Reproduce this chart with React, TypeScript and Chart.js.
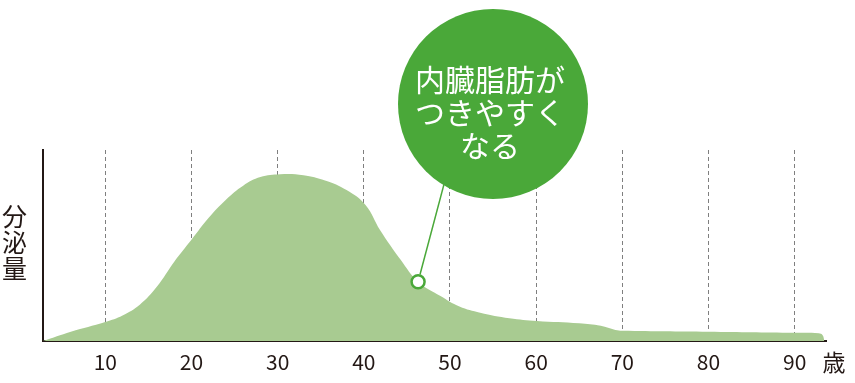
import React, { useEffect, useRef } from "react";
import { Chart, registerables } from "chart.js";

Chart.register(...registerables);

// ---- data ----
const ages = [2.77, 6, 10, 12, 14, 16, 18, 20, 22, 24, 26, 28, 30.3, 33, 35.5, 38, 40.2, 41.9, 44.3, 46.3, 48.9, 51.1, 53.5, 56.9, 60.1, 65, 67.5, 69.2, 70, 80, 90, 92.8, 93.25, 93.45];
const secretion = [0, 4.9, 10, 13.4, 19, 28.5, 41.5, 53, 64.5, 74, 81.3, 85.8, 87.3, 86.8, 84, 79, 71.2, 58, 42.4, 31, 23.5, 18, 14.8, 11.9, 10.5, 9.3, 8, 5.8, 5.4, 4.9, 4.3, 4, 3, 0];
const tickAges = [10, 20, 30, 40, 50, 60, 70, 80, 90];
const markerAge = [46.3];
const markerValue = [31];
const calloutLines = ["内臓脂肪が", "つきやすく", "なる"];
const yAxisLabel = ["分", "泌", "量"];
const xUnit = "歳";

const FILL = "#a8cb91";
const GREEN = "#4aa839";
const INK = "#231815";
const GRID = "#7f7f7f";
const FONT = "'Noto Sans CJK JP', 'Noto Sans', sans-serif";

export default function App() {
  const ref = useRef<HTMLCanvasElement>(null);

  useEffect(() => {
    document.body.style.margin = "0";
    const canvas = ref.current;
    if (!canvas) return;

    const overlay = {
      id: "overlay",
      afterDraw(chart: any) {
        const ctx = chart.ctx as CanvasRenderingContext2D;
        const xs = chart.scales.x;
        const ys = chart.scales.y;
        const mx = xs.getPixelForValue(markerAge[0]);
        const my = ys.getPixelForValue(markerValue[0]);
        // callout circle geometry (annotation)
        const cx = 493;
        const cy = 104;
        const r = 95;
        const ax = cx - 50;
        const ay = cy + 84;
        ctx.save();
        // connector
        const dx = ax - mx;
        const dy = ay - my;
        const len = Math.hypot(dx, dy);
        const sx = mx + (dx / len) * 7.5;
        const sy = my + (dy / len) * 7.5;
        ctx.strokeStyle = GREEN;
        ctx.lineWidth = 1.5;
        ctx.beginPath();
        ctx.moveTo(sx, sy);
        ctx.lineTo(ax + (dx / len) * 10, ay + (dy / len) * 10);
        ctx.stroke();
        // circle
        ctx.fillStyle = GREEN;
        ctx.beginPath();
        ctx.arc(cx, cy, r, 0, Math.PI * 2);
        ctx.fill();
        // callout text
        ctx.fillStyle = "#ffffff";
        ctx.font = `30px ${FONT}`;
        ctx.textAlign = "center";
        ctx.textBaseline = "middle";
        const offs = [-24, 9, 42];
        calloutLines.forEach((t, i) => ctx.fillText(t, cx - 3, cy + offs[i]));
        // y-axis label (vertical)
        ctx.fillStyle = INK;
        ctx.font = `25px ${FONT}`;
        const yc = [216, 242, 268];
        yAxisLabel.forEach((t, i) => ctx.fillText(t, 14.5, yc[i]));
        // unit
        ctx.font = `23px ${FONT}`;
        ctx.fillText(xUnit, 834, 362);
        ctx.restore();
      },
    };

    const chart = new Chart(canvas, {
      type: "line",
      data: {
        datasets: [
          {
            data: markerAge.map((a, i) => ({ x: a, y: markerValue[i] })),
            showLine: false,
            pointRadius: 6.5,
            pointBorderWidth: 2.5,
            pointBackgroundColor: "#ffffff",
            pointBorderColor: GREEN,
            order: 0,
          },
          {
            data: ages.map((a, i) => ({ x: a, y: secretion[i] })),
            fill: "origin",
            backgroundColor: FILL,
            borderWidth: 0,
            borderColor: "rgba(0,0,0,0)",
            pointRadius: 0,
            tension: 0.4,
            order: 1,
          },
        ],
      },
      options: {
        animation: false,
        responsive: true,
        maintainAspectRatio: false,
        events: [],
        layout: { padding: { top: 150, left: 43, right: 29, bottom: 0 } },
        plugins: { legend: { display: false }, tooltip: { enabled: false } },
        scales: {
          x: {
            type: "linear",
            min: 2.77,
            max: 93.64,
            z: 1,
            afterBuildTicks: (s: any) => {
              s.ticks = tickAges.map((v) => ({ value: v }));
            },
            afterFit: (s: any) => {
              s.height = 42;
            },
            grid: { display: true, color: GRID, lineWidth: 1, drawTicks: false },
            border: { display: true, color: INK, width: 2, dash: [4, 3] },
            ticks: {
              color: INK,
              padding: 8,
              maxRotation: 0,
              autoSkip: false,
              font: { family: FONT, size: 21 },
              callback: (v: any) => String(v),
            },
          },
          y: {
            type: "linear",
            min: 0,
            max: 100,
            afterFit: (s: any) => {
              s.width = 0;
            },
            grid: { display: false, drawTicks: false },
            border: { display: true, color: INK, width: 2 },
            ticks: { display: false },
          },
        },
      },
      plugins: [overlay],
    });
    return () => chart.destroy();
  }, []);

  return (
    <div style={{ position: "absolute", left: 0, top: 0, width: 855, height: 383 }}>
      <canvas ref={ref} />
    </div>
  );
}
